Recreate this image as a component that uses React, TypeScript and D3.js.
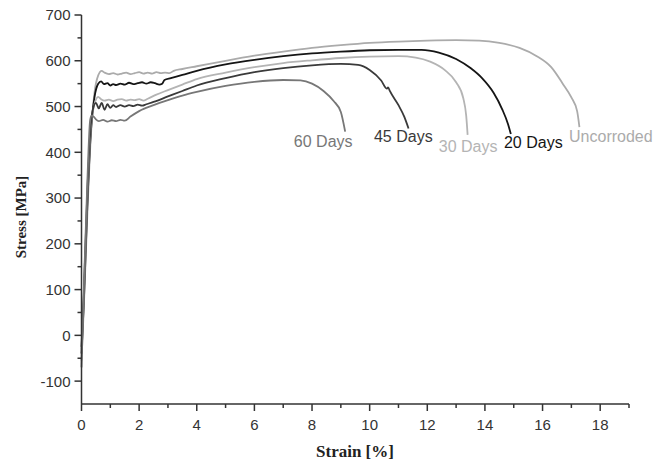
import React, { useEffect, useRef } from 'react';
import * as d3 from 'd3';

// 应力-应变曲线数据 [strain %, stress MPa]
const uncorroded: [number, number][] = [
  [0, -55], [0.08, 60], [0.2, 260], [0.32, 430], [0.45, 530], [0.58, 568], [0.7, 578], [0.8, 574],
  [0.95, 571], [1.1, 573], [1.25, 570], [1.4, 572], [1.55, 574], [1.7, 571], [1.85, 573], [2.0, 575],
  [2.15, 572], [2.3, 574], [2.45, 572], [2.6, 575], [2.75, 573], [2.9, 574], [3.05, 573], [3.2, 578],
  [3.5, 582], [4, 588], [5, 600], [6, 611], [7, 620], [8, 628], [9, 634], [10, 639], [11, 642],
  [12, 644], [13, 645], [13.8, 644], [14.5, 639], [15.2, 628], [15.8, 610], [16.3, 586], [16.7, 550],
  [17.0, 520], [17.2, 490], [17.28, 455]
];

const days20: [number, number][] = [
  [0, -40], [0.08, 70], [0.2, 280], [0.32, 440], [0.45, 520], [0.58, 550], [0.68, 555], [0.78, 549],
  [0.9, 551], [1.0, 546], [1.1, 549], [1.2, 547], [1.35, 550], [1.5, 548], [1.65, 552], [1.8, 549],
  [1.95, 551], [2.1, 553], [2.25, 550], [2.4, 553], [2.55, 551], [2.7, 548], [2.8, 550], [2.88, 558],
  [3.1, 562], [3.5, 569], [4, 578], [5, 592], [6, 602], [7, 610], [8, 616], [9, 620], [10, 623],
  [11, 624], [11.8, 624], [12.4, 618], [13, 604], [13.5, 584], [13.9, 562], [14.3, 530], [14.6, 494],
  [14.8, 462], [14.9, 440]
];

const days30: [number, number][] = [
  [0, -30], [0.08, 80], [0.2, 300], [0.32, 450], [0.45, 505], [0.58, 521], [0.68, 516], [0.8, 513],
  [0.95, 515], [1.1, 512], [1.25, 515], [1.4, 516], [1.55, 513], [1.7, 515], [1.85, 514], [2.0, 516],
  [2.15, 513], [2.3, 517], [2.6, 526], [3, 536], [3.5, 548], [4, 560], [5, 574], [6, 586], [7, 595],
  [8, 601], [9, 606], [10, 609], [11, 610], [11.6, 607], [12.1, 598], [12.6, 580], [13.0, 553],
  [13.25, 518], [13.35, 480], [13.4, 438]
];

const days45: [number, number][] = [
  [0, -25], [0.08, 90], [0.2, 310], [0.3, 440], [0.4, 495], [0.5, 508], [0.6, 496], [0.7, 508],
  [0.8, 493], [0.9, 505], [1.0, 497], [1.1, 503], [1.2, 499], [1.35, 503], [1.5, 500], [1.65, 503],
  [1.8, 501], [1.95, 504], [2.1, 502], [2.25, 505], [2.5, 510], [3, 522], [3.5, 534], [4, 546],
  [5, 562], [6, 575], [7, 584], [8, 590], [9, 593], [9.6, 591], [10.0, 580], [10.4, 557], [10.6, 539],
  [10.64, 542], [10.7, 534], [11.0, 503], [11.2, 478], [11.35, 452]
];

const days60: [number, number][] = [
  [0, -70], [0.08, 100], [0.2, 330], [0.3, 470], [0.35, 480], [0.42, 478], [0.5, 472], [0.6, 468],
  [0.75, 471], [0.9, 467], [1.05, 470], [1.2, 468], [1.35, 471], [1.5, 469], [1.7, 478], [2, 490],
  [2.5, 503], [3, 514], [3.5, 524], [4, 532], [5, 545], [6, 554], [7, 558], [7.6, 557], [8.0, 550],
  [8.4, 534], [8.75, 512], [9.0, 488], [9.15, 445]
];

const seriesNames = ['Uncorroded', '20 Days', '30 Days', '45 Days', '60 Days'];
const seriesData = [uncorroded, days20, days30, days45, days60];
const seriesColors = ['#ababab', '#151515', '#b4b4b4', '#3a3a3a', '#777777'];

// 标签锚点 [strain, stress]（文字左下角）
const labelAnchors: [number, number][] = [[16.92, 422], [14.66, 409], [12.4, 400], [10.15, 422], [7.37, 411]];

const xTicks = [0, 2, 4, 6, 8, 10, 12, 14, 16, 18];
const xMinorTicks = [1, 3, 5, 7, 9, 11, 13, 15, 17, 19];
const yTicks = [-100, 0, 100, 200, 300, 400, 500, 600, 700];
const yMinorTicks = [-50, 50, 150, 250, 350, 450, 550, 650];

const width = 653;
const height = 463;

const App = () => {
  const svgRef = useRef<SVGSVGElement | null>(null);

  useEffect(() => {
    document.body.style.margin = '0';
    if (!svgRef.current) return;

    const svg = d3.select(svgRef.current);
    svg.selectAll('*').remove();

    const x = d3.scaleLinear().domain([0, 19]).range([81.5, 629]);
    const y = d3.scaleLinear().domain([-150, 700]).range([404, 15]);

    const AXIS_COLOR = '#333';
    const TICK_FONT = '"Liberation Sans", Arial, sans-serif';

    // 曲线
    const line = d3.line<[number, number]>()
      .x(d => x(d[0]))
      .y(d => y(d[1]))
      .curve(d3.curveMonotoneX);

    seriesData.forEach((s, i) => {
      svg.append('path')
        .attr('d', line(s) as string)
        .attr('fill', 'none')
        .attr('stroke', seriesColors[i])
        .attr('stroke-width', 1.8)
        .attr('stroke-linejoin', 'round');
    });

    // y 轴
    const gy = svg.append('g');
    gy.append('line')
      .attr('x1', x(0)).attr('x2', x(0))
      .attr('y1', y(700)).attr('y2', y(-150))
      .attr('stroke', AXIS_COLOR).attr('stroke-width', 1.5);
    yTicks.forEach(t => {
      gy.append('line')
        .attr('x1', x(0) - 7).attr('x2', x(0))
        .attr('y1', y(t)).attr('y2', y(t))
        .attr('stroke', AXIS_COLOR).attr('stroke-width', 1.5);
      gy.append('text')
        .attr('x', x(0) - 11)
        .attr('y', y(t))
        .attr('dy', '0.36em')
        .attr('text-anchor', 'end')
        .attr('fill', '#333')
        .attr('font-family', TICK_FONT)
        .attr('font-size', '15px')
        .text(t);
    });
    yMinorTicks.forEach(t => {
      gy.append('line')
        .attr('x1', x(0) - 4).attr('x2', x(0))
        .attr('y1', y(t)).attr('y2', y(t))
        .attr('stroke', AXIS_COLOR).attr('stroke-width', 1.5);
    });

    // x 轴
    const gx = svg.append('g');
    gx.append('line')
      .attr('x1', x(0)).attr('x2', x(19))
      .attr('y1', y(-150)).attr('y2', y(-150))
      .attr('stroke', AXIS_COLOR).attr('stroke-width', 1.5);
    xTicks.forEach(t => {
      gx.append('line')
        .attr('x1', x(t)).attr('x2', x(t))
        .attr('y1', y(-150)).attr('y2', y(-150) + 7)
        .attr('stroke', AXIS_COLOR).attr('stroke-width', 1.5);
      gx.append('text')
        .attr('x', x(t))
        .attr('y', y(-150) + 26)
        .attr('text-anchor', 'middle')
        .attr('fill', '#333')
        .attr('font-family', TICK_FONT)
        .attr('font-size', '15px')
        .text(t);
    });
    xMinorTicks.forEach(t => {
      gx.append('line')
        .attr('x1', x(t)).attr('x2', x(t))
        .attr('y1', y(-150)).attr('y2', y(-150) + 4)
        .attr('stroke', AXIS_COLOR).attr('stroke-width', 1.5);
    });

    // 轴标题
    svg.append('text')
      .attr('x', 355)
      .attr('y', 457)
      .attr('text-anchor', 'middle')
      .attr('fill', '#222')
      .attr('font-family', '"Liberation Serif", "Times New Roman", serif')
      .attr('font-weight', 'bold')
      .attr('font-size', '17px')
      .text('Strain [%]');

    svg.append('text')
      .attr('transform', 'translate(26,217) rotate(-90)')
      .attr('text-anchor', 'middle')
      .attr('fill', '#222')
      .attr('font-family', '"Liberation Serif", "Times New Roman", serif')
      .attr('font-weight', 'bold')
      .attr('font-size', '15px')
      .text('Stress [MPa]');

    // 曲线标签
    seriesNames.forEach((name, i) => {
      svg.append('text')
        .attr('x', x(labelAnchors[i][0]))
        .attr('y', y(labelAnchors[i][1]))
        .attr('text-anchor', 'start')
        .attr('fill', seriesColors[i])
        .attr('font-family', TICK_FONT)
        .attr('font-size', '16px')
        .text(name);
    });
  }, []);

  return (
    <svg ref={svgRef} width={width} height={height} style={{ display: 'block', background: '#fff' }}></svg>
  );
};

export default App;
